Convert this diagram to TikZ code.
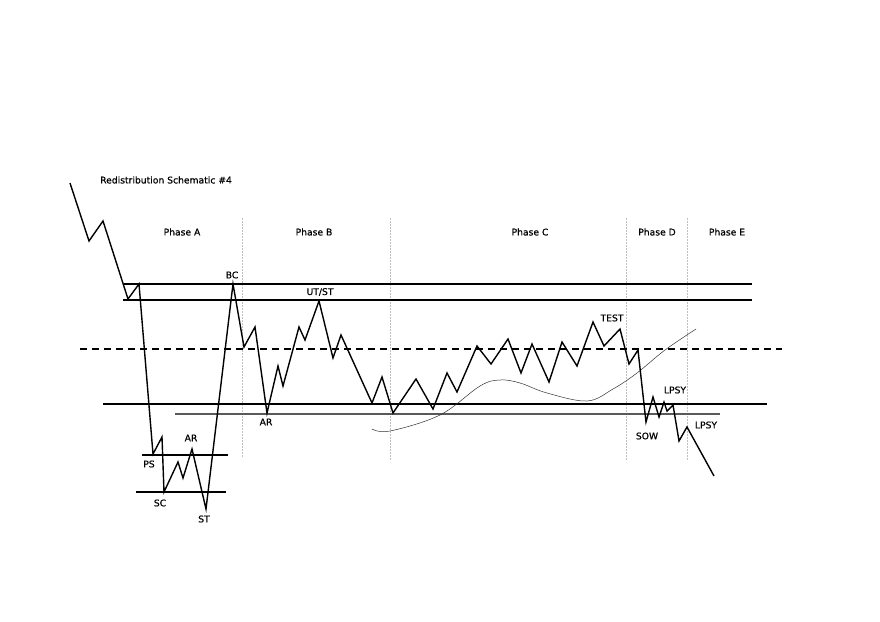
\documentclass[tikz,border=0pt]{standalone}
\usepackage{fontspec}
\setmainfont{DejaVu Sans}
\newfontfamily\lblfont{DejaVu Sans}[FakeBold=0.6]
\tikzset{
	price/.style={line width=1.4pt,line join=miter},
	level/.style={line width=1.2pt},
	sublevel/.style={line width=1.2pt,black!65},
	phaseline/.style={line width=0.5pt,black!25,dash pattern=on 2pt off 1pt},
	lbl/.style={font=\lblfont\fontsize{9.2}{11}\selectfont,inner sep=1pt}
}
\begin{document}
\begin{tikzpicture}[x=1pt,y=-1pt]
	\useasboundingbox[fill=white] (0,0) rectangle (880,621);
	
	%title and phase labels
	\node[lbl,anchor=west] (title) at (99,180) {Redistribution Schematic \#4};
	\node[lbl] (phaseA) at (182,232) {Phase A};
	\node[lbl] (phaseB) at (314,232) {Phase B};
	\node[lbl] (phaseC) at (530,232) {Phase C};
	\node[lbl] (phaseD) at (657,232) {Phase D};
	\node[lbl] (phaseE) at (727,232) {Phase E};
	
	%phase separators
	\draw[phaseline] (242,218)--(242,458);
	\draw[phaseline] (390,218)--(390,460);
	\draw[phaseline] (626,218)--(626,460);
	\draw[phaseline] (687,218)--(687,460);
	
	%range levels
	\draw[level] (124,284)--(752,284);			%top of range
	\draw[level] (123,300)--(752,300);
	\draw[level,dash pattern=on 7pt off 5pt] (80,349)--(782,349);	%midline
	\draw[level] (103,404)--(767,404);			%support
	\draw[sublevel] (175,414)--(720,414);
	\draw[level] (142,455)--(228,455);			%climax box
	\draw[level] (136,492)--(226,492);
	
	%trend curve
	\draw[line width=0.5pt,black!80] plot[smooth,tension=0.6] coordinates {(372,429) (390,431) (440,415) (480,386) (500,380) (520,383) (547,393) (587,401) (613,389) (637,373) (665,350) (696,329)};
	
	%price path
	\draw[price] (70,183)--(89,241)--(103,221)--(128,299)--(139,284)	%mark-up
		--(153,454)--(162,437)--(164,492)--(178,462)--(183,478)--(192,449)--(206,509)	%phase A
		--(233,284)--(244,347)--(255,327)--(267,413)--(278,366)--(283,386)	%phase B
		--(299,327)--(305,340)--(319,301)--(333,358)--(341,335)--(372,403)
		--(382,377)--(393,413)--(416,379)--(433,409)--(447,373)--(457,392)	%phase C
		--(477,346)--(491,364)--(508,339)--(521,373)--(532,344)--(549,382)
		--(562,342)--(577,366)--(593,322)--(604,346)--(620,329)
		--(629,364)--(638,350)--(646,422)--(653,397)--(659,417)--(664,402)	%phase D
		--(667,411)--(673,405)--(679,441)--(687,427)--(714,476);			%phase E
	
	%event labels
	\node[lbl] (bc) at (232,275) {BC};
	\node[lbl] (utst) at (320,292) {UT/ST};
	\node[lbl] (ar) at (266,422) {AR};
	\node[lbl] (ps) at (149,464) {PS};
	\node[lbl] (arA) at (191,438) {AR};
	\node[lbl] (sc) at (160,503) {SC};
	\node[lbl] (st) at (204,519) {ST};
	\node[lbl] (test) at (612,318) {TEST};
	\node[lbl] (lpsyA) at (675,390) {LPSY};
	\node[lbl] (sow) at (647,436) {SOW};
	\node[lbl] (lpsyB) at (706,425) {LPSY};
	
\end{tikzpicture}
\end{document}
